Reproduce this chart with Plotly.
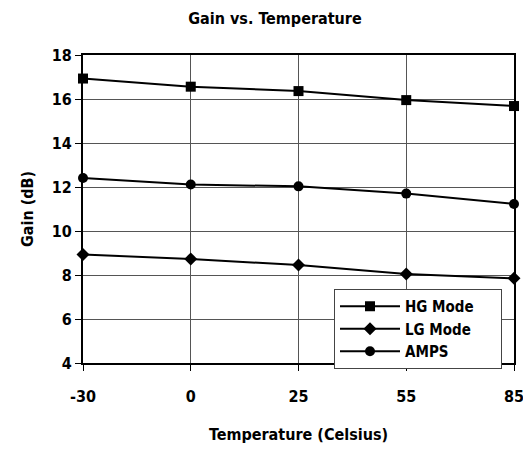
import plotly.graph_objects as go

temps = ["-30", "0", "25", "55", "85"]
hg_mode = [16.93, 16.56, 16.36, 15.95, 15.68]
lg_mode = [8.93, 8.73, 8.45, 8.05, 7.85]
amps = [12.41, 12.11, 12.03, 11.70, 11.23]
y_ticks = [4, 6, 8, 10, 12, 14, 16, 18]

FONT = "Liberation Sans Narrow, Arial Narrow, DejaVu Sans Condensed, Liberation Sans, Arial"
xi = list(range(len(temps)))

# page has an 8px body margin, so figure coordinates = page coordinates - 8
W, H = 523, 443
L, R, T, B = 75, 17, 47, 88
PW, PH = W - L - R, H - T - B
PAD = "&nbsp;" * 5

fig = go.Figure()
for name, vals, sym, sz in [("HG Mode", hg_mode, "square", 10),
                            ("LG Mode", lg_mode, "diamond", 10),
                            ("AMPS", amps, "circle", 10)]:
    fig.add_trace(go.Scatter(x=xi, y=vals, name="<b>%s</b>%s" % (name, PAD),
                             mode="lines+markers",
                             line=dict(color="black", width=2),
                             marker=dict(symbol=sym, size=sz, color="black"),
                             cliponaxis=False))

fig.update_layout(
    width=W, height=H,
    margin=dict(l=L, r=R, t=T, b=B, autoexpand=False),
    paper_bgcolor="white", plot_bgcolor="white",
    font=dict(family=FONT, color="black"),
    title=dict(text="<b>Gain vs. Temperature</b>", x=267/W, xref="container",
               xanchor="center", y=1-10/H, yanchor="middle", font=dict(size=16)),
    showlegend=True,
    legend=dict(x=(326-L)/PW, y=(H-B-281)/PH, xanchor="left", yanchor="top",
                bgcolor="white", bordercolor="#444", borderwidth=1,
                font=dict(size=15, family=FONT), itemwidth=60,
                tracegroupgap=0),
)
fig.update_xaxes(
    tickmode="array", tickvals=xi, ticktext=["<b>%s</b>" % t for t in temps],
    range=[0, len(temps) - 1], showgrid=True, gridcolor="#555", gridwidth=1,
    showline=True, linecolor="black", linewidth=2, mirror=True,
    ticks="outside", ticklen=6, tickcolor="black", tickfont=dict(size=16),
    ticklabelstandoff=12,
    title=dict(text="<b>Temperature (Celsius)</b>", font=dict(size=16), standoff=24),
    zeroline=False, automargin=False,
)
fig.update_yaxes(
    tickmode="array", tickvals=y_ticks, ticktext=["<b>%d</b>" % v for v in y_ticks],
    range=[4, 18], showgrid=True, gridcolor="#555", gridwidth=1,
    showline=True, linecolor="black", linewidth=2, mirror=True,
    ticks="outside", ticklen=6, tickcolor="black", tickfont=dict(size=16),
    title=dict(text="<b>Gain (dB)</b>", font=dict(size=16), standoff=14),
    zeroline=False, automargin=False,
)

fig.write_html("out.html")
